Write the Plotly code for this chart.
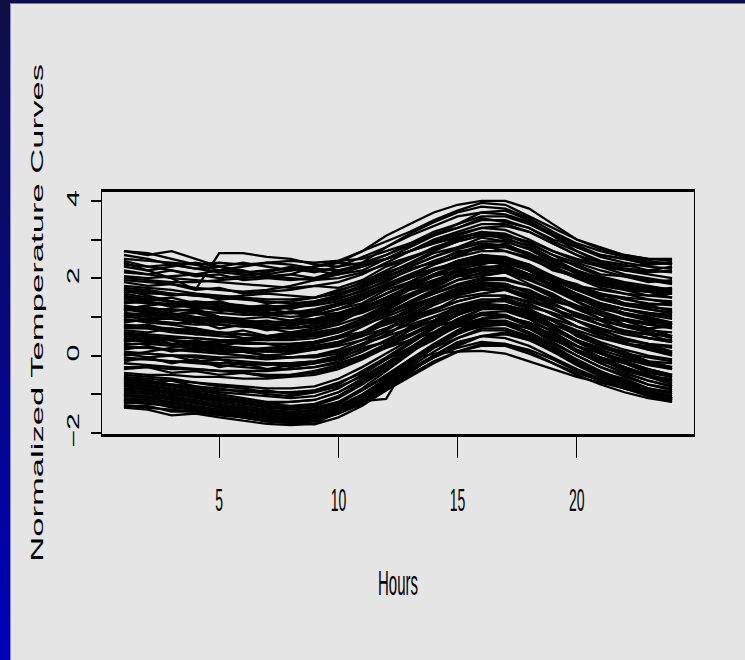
import plotly.graph_objects as go

# ---- data: hourly normalized temperature curves (one list per day) ----
hours = list(range(1, 25))

warm_days = [
    [2.7, 2.6, 2.7, 2.5, 2.3, 2.4, 2.3, 2.2, 2.3, 2.4, 2.7, 3.1, 3.4, 3.7, 3.9, 4.0, 4.0, 3.8, 3.4, 3.0, 2.8, 2.6, 2.5, 2.5],
    [2.7, 2.65, 2.5, 2.35, 2.2, 2.15, 2.1, 2.2, 2.3, 2.45, 2.7, 2.95, 3.2, 3.5, 3.75, 3.95, 3.9, 3.6, 3.3, 3.0, 2.75, 2.6, 2.5, 2.45],
    [2.4, 2.2, 2.0, 1.7, 2.65, 2.65, 2.55, 2.5, 2.35, 2.3, 2.4, 2.6, 2.9, 3.2, 3.4, 3.6, 3.6, 3.4, 3.1, 2.8, 2.6, 2.5, 2.4, 2.4],
    [2.5, 2.45, 2.4, 2.35, 2.4, 2.35, 2.4, 2.45, 2.4, 2.45, 2.5, 2.7, 2.9, 3.1, 3.3, 3.5, 3.5, 3.3, 3.0, 2.8, 2.55, 2.4, 2.3, 2.25],
    [2.35, 2.3, 2.2, 2.1, 2.0, 2.05, 2.15, 2.3, 2.2, 2.1, 2.2, 2.5, 2.8, 3.1, 3.4, 3.7, 3.75, 3.5, 3.1, 2.7, 2.4, 2.2, 2.1, 2.0],
    [2.3, 2.2, 2.3, 2.4, 2.3, 2.2, 2.05, 2.1, 2.3, 2.4, 2.35, 2.5, 2.7, 2.9, 3.1, 3.3, 3.35, 3.2, 2.9, 2.6, 2.4, 2.3, 2.35, 2.4],
    [2.2, 2.1, 2.0, 1.95, 1.9, 1.85, 1.8, 1.75, 1.8, 1.9, 2.1, 2.4, 2.7, 3.0, 3.2, 3.4, 3.4, 3.2, 2.9, 2.6, 2.3, 2.1, 2.0, 1.9],
    [2.05, 2.0, 2.05, 2.1, 2.2, 2.3, 2.4, 2.35, 2.25, 2.2, 2.3, 2.5, 2.7, 2.95, 3.15, 3.3, 3.25, 3.0, 2.7, 2.45, 2.3, 2.2, 2.15, 2.2],
    [1.95, 1.9, 1.85, 1.75, 1.7, 1.65, 1.7, 1.8, 1.95, 2.1, 2.3, 2.5, 2.7, 2.9, 3.05, 3.15, 3.1, 2.9, 2.6, 2.4, 2.2, 2.05, 1.95, 1.85],
    [2.6, 2.5, 2.35, 2.25, 2.15, 2.1, 2.0, 1.95, 2.0, 2.15, 2.4, 2.8, 3.15, 3.45, 3.7, 3.85, 3.8, 3.55, 3.2, 2.9, 2.7, 2.55, 2.45, 2.35],
    [2.0, 1.95, 1.9, 1.9, 1.95, 2.0, 2.05, 2.0, 1.95, 2.0, 2.15, 2.35, 2.55, 2.75, 2.95, 3.1, 3.1, 2.95, 2.7, 2.5, 2.35, 2.25, 2.2, 2.15],
    [2.15, 2.1, 2.2, 2.05, 2.1, 1.95, 2.0, 2.1, 2.0, 2.2, 2.35, 2.6, 2.85, 3.15, 3.3, 3.55, 3.45, 3.3, 2.95, 2.7, 2.45, 2.35, 2.2, 2.3],
    [2.45, 2.3, 2.35, 2.25, 2.3, 2.15, 2.2, 2.25, 2.15, 2.3, 2.55, 2.8, 3.1, 3.35, 3.6, 3.7, 3.65, 3.45, 3.15, 2.85, 2.6, 2.5, 2.35, 2.4],
]

mild_days = [
    [1.8, 1.75, 1.7, 1.6, 1.55, 1.5, 1.45, 1.45, 1.5, 1.65, 1.9, 2.2, 2.5, 2.8, 3.0, 3.2, 3.15, 2.9, 2.6, 2.3, 2.05, 1.9, 1.8, 1.7],
    [1.75, 1.7, 1.6, 1.55, 1.5, 1.45, 1.4, 1.35, 1.4, 1.55, 1.75, 2.0, 2.3, 2.55, 2.8, 2.95, 2.95, 2.75, 2.45, 2.2, 2.0, 1.85, 1.75, 1.7],
    [1.65, 1.6, 1.6, 1.55, 1.5, 1.55, 1.6, 1.55, 1.5, 1.6, 1.8, 2.05, 2.3, 2.55, 2.75, 2.9, 2.85, 2.6, 2.3, 2.05, 1.9, 1.75, 1.65, 1.6],
    [1.6, 1.5, 1.4, 1.3, 1.2, 1.1, 1.05, 1.0, 1.05, 1.2, 1.45, 1.75, 2.05, 2.35, 2.6, 2.8, 2.8, 2.6, 2.3, 2.0, 1.75, 1.6, 1.45, 1.35],
    [1.5, 1.45, 1.4, 1.35, 1.3, 1.25, 1.25, 1.3, 1.4, 1.55, 1.8, 2.1, 2.4, 2.7, 2.95, 3.1, 3.05, 2.8, 2.5, 2.2, 2.0, 1.85, 1.75, 1.65],
    [1.45, 1.4, 1.3, 1.25, 1.2, 1.15, 1.1, 1.1, 1.15, 1.3, 1.5, 1.75, 2.0, 2.2, 2.4, 2.55, 2.5, 2.3, 2.05, 1.8, 1.6, 1.45, 1.35, 1.3],
    [1.4, 1.35, 1.35, 1.3, 1.25, 1.2, 1.2, 1.25, 1.3, 1.4, 1.6, 1.85, 2.1, 2.35, 2.55, 2.7, 2.7, 2.5, 2.25, 2.0, 1.85, 1.75, 1.7, 1.65],
    [1.3, 1.2, 1.1, 1.0, 0.95, 0.9, 0.85, 0.85, 0.9, 1.05, 1.3, 1.6, 1.9, 2.2, 2.45, 2.6, 2.55, 2.35, 2.05, 1.75, 1.5, 1.35, 1.2, 1.1],
    [1.25, 1.2, 1.2, 1.15, 1.1, 1.05, 1.05, 1.1, 1.2, 1.35, 1.55, 1.8, 2.05, 2.25, 2.4, 2.5, 2.45, 2.25, 2.0, 1.8, 1.6, 1.5, 1.45, 1.4],
    [1.2, 1.1, 1.05, 0.95, 0.9, 0.8, 0.75, 0.7, 0.75, 0.9, 1.15, 1.45, 1.8, 2.1, 2.35, 2.5, 2.45, 2.2, 1.9, 1.6, 1.35, 1.2, 1.05, 0.95],
    [1.1, 1.05, 1.0, 0.95, 0.9, 0.9, 0.85, 0.9, 0.95, 1.1, 1.3, 1.6, 1.85, 2.1, 2.3, 2.45, 2.4, 2.2, 1.95, 1.7, 1.5, 1.35, 1.25, 1.2],
    [1.05, 1.0, 0.95, 0.85, 0.8, 0.75, 0.7, 0.7, 0.8, 0.95, 1.2, 1.5, 1.8, 2.05, 2.3, 2.45, 2.45, 2.25, 1.95, 1.7, 1.45, 1.3, 1.2, 1.1],
    [1.0, 0.95, 0.95, 0.9, 0.85, 0.85, 0.8, 0.8, 0.85, 0.95, 1.1, 1.35, 1.6, 1.85, 2.05, 2.2, 2.2, 2.05, 1.8, 1.55, 1.35, 1.2, 1.1, 1.05],
    [0.95, 0.85, 0.8, 0.7, 0.6, 0.55, 0.5, 0.5, 0.55, 0.7, 0.95, 1.25, 1.55, 1.85, 2.1, 2.3, 2.3, 2.1, 1.8, 1.5, 1.25, 1.05, 0.9, 0.8],
    [0.9, 0.9, 0.85, 0.8, 0.8, 0.75, 0.75, 0.8, 0.9, 1.05, 1.25, 1.5, 1.75, 1.95, 2.15, 2.3, 2.25, 2.05, 1.8, 1.55, 1.35, 1.2, 1.1, 1.0],
    [0.8, 0.75, 0.7, 0.65, 0.6, 0.55, 0.5, 0.5, 0.55, 0.65, 0.85, 1.1, 1.35, 1.6, 1.8, 1.95, 1.95, 1.8, 1.55, 1.3, 1.1, 0.95, 0.85, 0.8],
    [0.75, 0.7, 0.6, 0.55, 0.5, 0.45, 0.4, 0.4, 0.45, 0.6, 0.85, 1.15, 1.5, 1.8, 2.05, 2.25, 2.2, 2.0, 1.7, 1.4, 1.15, 0.95, 0.8, 0.7],
    [0.7, 0.7, 0.65, 0.6, 0.55, 0.55, 0.5, 0.55, 0.6, 0.7, 0.9, 1.1, 1.3, 1.5, 1.65, 1.8, 1.8, 1.65, 1.45, 1.25, 1.05, 0.9, 0.8, 0.75],
    [0.6, 0.55, 0.5, 0.45, 0.4, 0.35, 0.3, 0.3, 0.35, 0.5, 0.75, 1.05, 1.35, 1.6, 1.85, 2.0, 2.0, 1.8, 1.5, 1.2, 0.95, 0.75, 0.6, 0.5],
    [0.55, 0.5, 0.45, 0.45, 0.4, 0.4, 0.4, 0.45, 0.5, 0.6, 0.8, 1.0, 1.25, 1.45, 1.6, 1.75, 1.7, 1.55, 1.3, 1.1, 0.9, 0.75, 0.65, 0.6],
    [0.5, 0.45, 0.4, 0.3, 0.25, 0.2, 0.15, 0.15, 0.2, 0.35, 0.6, 0.9, 1.2, 1.5, 1.75, 1.9, 1.85, 1.65, 1.35, 1.05, 0.8, 0.6, 0.45, 0.35],
    [0.45, 0.4, 0.4, 0.35, 0.35, 0.3, 0.3, 0.3, 0.35, 0.45, 0.6, 0.8, 1.0, 1.2, 1.4, 1.55, 1.55, 1.4, 1.2, 1.0, 0.8, 0.65, 0.55, 0.5],
    [0.4, 0.35, 0.3, 0.25, 0.2, 0.15, 0.1, 0.1, 0.15, 0.3, 0.55, 0.85, 1.15, 1.45, 1.7, 1.85, 1.85, 1.65, 1.35, 1.05, 0.8, 0.6, 0.45, 0.35],
    [0.3, 0.3, 0.25, 0.2, 0.15, 0.15, 0.15, 0.2, 0.25, 0.35, 0.5, 0.7, 0.9, 1.1, 1.3, 1.45, 1.45, 1.3, 1.1, 0.9, 0.7, 0.55, 0.45, 0.4],
    [0.25, 0.2, 0.15, 0.1, 0.05, 0.0, -0.05, -0.05, 0.0, 0.15, 0.4, 0.7, 1.0, 1.3, 1.55, 1.7, 1.7, 1.5, 1.2, 0.9, 0.65, 0.45, 0.3, 0.2],
    [0.2, 0.2, 0.15, 0.15, 0.1, 0.1, 0.1, 0.1, 0.15, 0.25, 0.4, 0.6, 0.8, 1.0, 1.15, 1.3, 1.3, 1.15, 0.95, 0.75, 0.55, 0.4, 0.3, 0.25],
    [0.1, 0.05, 0.0, -0.05, -0.1, -0.15, -0.2, -0.2, -0.15, 0.0, 0.25, 0.55, 0.85, 1.15, 1.4, 1.55, 1.55, 1.35, 1.05, 0.75, 0.5, 0.3, 0.15, 0.05],
    [0.05, 0.05, 0.0, 0.0, -0.05, -0.05, -0.1, -0.05, 0.0, 0.1, 0.3, 0.5, 0.7, 0.9, 1.1, 1.25, 1.25, 1.1, 0.9, 0.65, 0.45, 0.3, 0.2, 0.1],
    [-0.05, -0.1, -0.15, -0.2, -0.25, -0.3, -0.35, -0.35, -0.3, -0.15, 0.1, 0.4, 0.7, 1.0, 1.25, 1.4, 1.4, 1.2, 0.9, 0.6, 0.35, 0.15, 0.0, -0.1],
    [-0.1, -0.1, -0.15, -0.15, -0.2, -0.2, -0.25, -0.2, -0.15, -0.05, 0.15, 0.35, 0.55, 0.75, 0.9, 1.05, 1.0, 0.85, 0.65, 0.4, 0.2, 0.05, -0.05, -0.15],
    [-0.2, -0.25, -0.3, -0.35, -0.4, -0.45, -0.5, -0.5, -0.45, -0.3, -0.05, 0.25, 0.55, 0.85, 1.1, 1.25, 1.2, 1.0, 0.7, 0.4, 0.15, -0.05, -0.2, -0.3],
    [-0.3, -0.3, -0.35, -0.35, -0.4, -0.4, -0.4, -0.35, -0.3, -0.2, 0.0, 0.2, 0.4, 0.6, 0.75, 0.85, 0.85, 0.7, 0.5, 0.25, 0.05, -0.1, -0.25, -0.35],
    [1.2, 1.3, 1.35, 1.4, 1.35, 1.3, 1.2, 1.1, 1.05, 1.1, 1.3, 1.6, 1.9, 2.2, 2.45, 2.6, 2.5, 2.2, 1.8, 1.4, 1.05, 0.8, 0.6, 0.45],
    [0.0, 0.1, 0.2, 0.3, 0.35, 0.4, 0.45, 0.5, 0.55, 0.65, 0.85, 1.1, 1.4, 1.7, 1.95, 2.15, 2.2, 2.1, 1.95, 1.8, 1.7, 1.6, 1.55, 1.5],
    [1.7, 1.55, 1.4, 1.2, 1.0, 0.85, 0.7, 0.6, 0.55, 0.65, 0.9, 1.2, 1.55, 1.9, 2.2, 2.4, 2.4, 2.2, 1.9, 1.55, 1.3, 1.1, 0.95, 0.85],
    [0.6, 0.5, 0.4, 0.3, 0.2, 0.1, 0.0, -0.05, -0.05, 0.05, 0.3, 0.65, 1.0, 1.35, 1.65, 1.85, 1.85, 1.6, 1.25, 0.9, 0.6, 0.35, 0.15, 0.0],
    [1.9, 1.8, 1.85, 1.7, 1.75, 1.6, 1.65, 1.7, 1.8, 1.75, 1.95, 2.3, 2.5, 2.75, 3.05, 3.2, 3.0, 2.85, 2.5, 2.35, 2.1, 2.05, 1.9, 1.95],
    [1.35, 1.4, 1.25, 1.3, 1.15, 1.2, 1.05, 1.15, 1.1, 1.3, 1.45, 1.8, 2.0, 2.4, 2.55, 2.85, 2.7, 2.55, 2.2, 2.05, 1.8, 1.7, 1.55, 1.6],
    [0.85, 0.95, 0.8, 0.9, 0.7, 0.8, 0.65, 0.75, 0.9, 0.95, 1.25, 1.4, 1.75, 1.9, 2.25, 2.35, 2.5, 2.2, 2.05, 1.7, 1.6, 1.35, 1.3, 1.15],
    [0.35, 0.45, 0.3, 0.4, 0.25, 0.35, 0.3, 0.2, 0.35, 0.5, 0.6, 0.95, 1.1, 1.5, 1.6, 1.9, 1.8, 1.7, 1.4, 1.25, 0.95, 0.9, 0.7, 0.75],
    [-0.15, -0.05, -0.2, -0.1, -0.3, -0.2, -0.35, -0.25, -0.2, -0.1, 0.2, 0.35, 0.75, 0.9, 1.3, 1.35, 1.5, 1.25, 1.1, 0.75, 0.6, 0.3, 0.25, 0.05],
    [1.55, 1.45, 1.5, 1.35, 1.4, 1.25, 1.3, 1.2, 1.35, 1.45, 1.7, 1.9, 2.25, 2.4, 2.7, 2.75, 2.9, 2.6, 2.45, 2.1, 1.95, 1.7, 1.65, 1.5],
    [1.0, 1.1, 1.05, 1.15, 1.0, 0.95, 1.0, 0.9, 1.05, 1.2, 1.35, 1.7, 1.9, 2.2, 2.35, 2.6, 2.5, 2.35, 2.0, 1.85, 1.55, 1.5, 1.3, 1.35],
    [0.65, 0.6, 0.7, 0.55, 0.6, 0.45, 0.5, 0.55, 0.65, 0.8, 1.0, 1.3, 1.55, 1.75, 2.05, 2.1, 2.15, 1.95, 1.7, 1.45, 1.3, 1.05, 1.0, 0.85],
    [0.15, 0.25, 0.1, 0.2, 0.05, 0.1, 0.0, 0.05, 0.15, 0.3, 0.5, 0.85, 1.05, 1.4, 1.55, 1.8, 1.75, 1.55, 1.35, 1.05, 0.9, 0.6, 0.55, 0.35],
    [1.2, 1.15, 1.05, 1.1, 0.95, 0.85, 0.9, 0.8, 0.85, 1.0, 1.2, 1.45, 1.75, 2.05, 2.2, 2.45, 2.35, 2.1, 1.75, 1.5, 1.2, 1.1, 0.9, 0.8],
    [0.45, 0.35, 0.4, 0.25, 0.3, 0.15, 0.2, 0.25, 0.3, 0.45, 0.75, 1.05, 1.4, 1.65, 1.95, 2.05, 2.15, 1.85, 1.6, 1.25, 1.05, 0.8, 0.7, 0.5],
    [-0.35, -0.3, -0.45, -0.4, -0.5, -0.45, -0.55, -0.5, -0.4, -0.25, 0.0, 0.3, 0.65, 0.9, 1.2, 1.35, 1.3, 1.15, 0.8, 0.55, 0.25, 0.1, -0.15, -0.2],
    [1.7, 1.65, 1.55, 1.6, 1.45, 1.5, 1.35, 1.4, 1.5, 1.7, 1.85, 2.15, 2.35, 2.65, 2.8, 3.05, 2.95, 2.75, 2.4, 2.2, 1.95, 1.85, 1.7, 1.75],
    [0.75, 0.8, 0.65, 0.7, 0.55, 0.65, 0.5, 0.6, 0.7, 0.85, 1.15, 1.35, 1.7, 1.85, 2.2, 2.25, 2.35, 2.05, 1.85, 1.5, 1.35, 1.1, 1.0, 0.8],
    [0.05, -0.05, 0.0, -0.15, -0.1, -0.25, -0.2, -0.3, -0.2, -0.05, 0.3, 0.5, 0.95, 1.15, 1.5, 1.6, 1.7, 1.45, 1.25, 0.9, 0.7, 0.4, 0.3, 0.1],
    [1.15, 1.25, 1.15, 1.2, 1.25, 1.2, 1.15, 1.25, 1.35, 1.5, 1.65, 1.95, 2.2, 2.45, 2.65, 2.85, 2.85, 2.65, 2.35, 2.15, 1.95, 1.8, 1.7, 1.6],
]

cold_days = [
    [-0.45, -0.5, -0.5, -0.55, -0.55, -0.6, -0.6, -0.55, -0.5, -0.35, -0.1, 0.2, 0.5, 0.8, 1.05, 1.25, 1.3, 1.15, 0.9, 0.6, 0.3, 0.05, -0.15, -0.3],
    [-0.55, -0.6, -0.65, -0.7, -0.75, -0.8, -0.85, -0.85, -0.8, -0.6, -0.3, 0.05, 0.4, 0.75, 1.05, 1.25, 1.25, 1.05, 0.75, 0.4, 0.1, -0.15, -0.35, -0.5],
    [-0.6, -0.65, -0.75, -0.85, -0.95, -1.0, -1.05, -1.1, -1.05, -0.85, -0.5, -0.1, 0.3, 0.7, 1.05, 1.3, 1.3, 1.1, 0.75, 0.4, 0.1, -0.15, -0.35, -0.5],
    [-0.65, -0.7, -0.8, -0.9, -1.0, -1.1, -1.2, -1.2, -1.15, -0.95, -0.6, -0.2, 0.2, 0.6, 0.95, 1.2, 1.2, 0.95, 0.6, 0.25, -0.05, -0.3, -0.5, -0.65],
    [-0.7, -0.75, -0.85, -0.95, -1.05, -1.15, -1.25, -1.3, -1.25, -1.05, -0.7, -0.3, 0.15, 0.55, 0.9, 1.1, 1.05, 0.8, 0.45, 0.1, -0.2, -0.45, -0.65, -0.8],
    [-0.75, -0.8, -0.9, -1.0, -1.1, -1.2, -1.3, -1.35, -1.3, -1.1, -0.75, -0.35, 0.1, 0.5, 0.85, 1.1, 1.15, 0.95, 0.6, 0.25, -0.05, -0.3, -0.5, -0.65],
    [-0.8, -0.85, -0.95, -1.05, -1.15, -1.25, -1.35, -1.4, -1.35, -1.2, -0.9, -0.5, -0.1, 0.3, 0.65, 0.9, 0.9, 0.7, 0.35, 0.0, -0.3, -0.55, -0.75, -0.9],
    [-0.85, -0.9, -1.0, -1.1, -1.2, -1.3, -1.4, -1.45, -1.4, -1.2, -0.85, -0.4, 0.05, 0.5, 0.9, 1.2, 1.25, 1.05, 0.7, 0.35, 0.05, -0.2, -0.4, -0.55],
    [-0.9, -0.95, -1.05, -1.15, -1.25, -1.35, -1.45, -1.5, -1.45, -1.3, -1.0, -0.6, -0.15, 0.25, 0.6, 0.85, 0.85, 0.6, 0.25, -0.1, -0.4, -0.65, -0.85, -1.0],
    [-0.95, -1.0, -1.1, -1.2, -1.3, -1.4, -1.5, -1.55, -1.5, -1.35, -1.05, -0.65, -0.2, 0.25, 0.65, 0.95, 1.0, 0.8, 0.45, 0.1, -0.2, -0.45, -0.65, -0.8],
    [-1.0, -1.05, -1.15, -1.25, -1.35, -1.45, -1.55, -1.6, -1.55, -1.4, -1.1, -0.7, -0.25, 0.2, 0.55, 0.8, 0.8, 0.55, 0.2, -0.15, -0.45, -0.7, -0.9, -1.05],
    [-1.05, -1.1, -1.2, -1.3, -1.4, -1.5, -1.6, -1.65, -1.6, -1.45, -1.15, -0.75, -0.3, 0.1, 0.45, 0.7, 0.7, 0.5, 0.15, -0.2, -0.5, -0.75, -0.95, -1.1],
    [-1.1, -1.15, -1.25, -1.35, -1.45, -1.55, -1.65, -1.7, -1.65, -1.5, -1.2, -0.8, -0.4, -0.05, 0.25, 0.5, 0.55, 0.4, 0.1, -0.25, -0.55, -0.8, -1.0, -1.15],
    [-1.15, -1.2, -1.3, -1.4, -1.5, -1.6, -1.7, -1.75, -1.7, -1.5, -1.2, -0.85, -0.5, -0.15, 0.1, 0.3, 0.3, 0.15, -0.1, -0.4, -0.65, -0.85, -1.05, -1.2],
    [-1.2, -1.25, -1.3, -1.4, -1.5, -1.6, -1.7, -1.75, -1.78, -1.6, -1.3, -0.9, -0.45, 0.0, 0.3, 0.5, 0.45, 0.25, -0.05, -0.35, -0.6, -0.85, -1.0, -1.15],
    [-1.3, -1.35, -1.4, -1.45, -1.5, -1.55, -1.6, -1.65, -1.6, -1.45, -1.18, -1.12, -0.1, 0.05, 0.1, 0.12, 0.05, -0.15, -0.35, -0.55, -0.7, -0.85, -1.0, -1.15],
    [-1.35, -1.4, -1.55, -1.5, -1.6, -1.68, -1.77, -1.8, -1.77, -1.45, -1.15, -0.8, -0.4, -0.05, 0.2, 0.35, 0.3, 0.1, -0.2, -0.5, -0.75, -0.95, -1.1, -1.2],
    [-0.6, -0.7, -0.65, -0.8, -0.85, -0.95, -0.9, -1.0, -0.9, -0.7, -0.45, -0.1, 0.2, 0.55, 0.8, 1.05, 1.0, 0.85, 0.5, 0.25, -0.05, -0.2, -0.45, -0.55],
    [-0.8, -0.75, -0.9, -0.95, -1.1, -1.15, -1.25, -1.2, -1.15, -0.95, -0.65, -0.25, 0.1, 0.45, 0.75, 0.95, 1.0, 0.75, 0.5, 0.1, -0.1, -0.4, -0.55, -0.75],
    [-1.0, -1.1, -1.05, -1.2, -1.3, -1.35, -1.45, -1.5, -1.4, -1.25, -0.9, -0.55, -0.1, 0.25, 0.6, 0.75, 0.8, 0.6, 0.3, 0.0, -0.3, -0.5, -0.75, -0.85],
    [-1.25, -1.2, -1.35, -1.4, -1.45, -1.55, -1.6, -1.7, -1.6, -1.45, -1.15, -0.75, -0.35, 0.0, 0.35, 0.5, 0.6, 0.4, 0.15, -0.2, -0.45, -0.7, -0.9, -1.1],
    [-0.5, -0.55, -0.6, -0.7, -0.8, -0.85, -0.95, -0.95, -0.9, -0.75, -0.4, -0.05, 0.35, 0.75, 1.05, 1.35, 1.45, 1.2, 0.9, 0.5, 0.25, 0.0, -0.2, -0.35],
    [-0.9, -0.85, -1.0, -1.05, -1.2, -1.2, -1.35, -1.35, -1.3, -1.05, -0.7, -0.35, 0.1, 0.4, 0.8, 0.95, 1.05, 0.8, 0.55, 0.15, -0.05, -0.35, -0.5, -0.7],
    [-1.15, -1.25, -1.2, -1.35, -1.4, -1.5, -1.55, -1.6, -1.55, -1.35, -1.05, -0.6, -0.2, 0.2, 0.45, 0.65, 0.65, 0.45, 0.1, -0.15, -0.45, -0.6, -0.85, -0.95],
    [-0.7, -0.65, -0.75, -0.8, -0.9, -0.9, -1.0, -1.05, -0.95, -0.8, -0.55, -0.2, 0.15, 0.45, 0.75, 0.9, 0.85, 0.7, 0.4, 0.15, -0.15, -0.3, -0.55, -0.6],
    [-1.3, -1.3, -1.45, -1.45, -1.55, -1.6, -1.7, -1.72, -1.7, -1.5, -1.25, -0.9, -0.55, -0.2, 0.1, 0.25, 0.25, 0.05, -0.2, -0.45, -0.65, -0.85, -1.0, -1.1],
]

x_tick_vals = [5, 10, 15, 20]
y_tick_vals = [-2, -1, 0, 1, 2, 3, 4]
y_tick_text = ["\u22122", "", "0", "", "2", "", "4"]

x_title = "Hours"
y_title = "Normalized Temperature Curves"

# ---- page geometry (pixels) ----
W, H = 745, 660
ML, MR, MT, MB = 102, 51, 192, 226
PW, PH = W - ML - MR, H - MT - MB
FONT = "Liberation Sans, Arial, Helvetica, sans-serif"
PAPER_BG = "#e5e5e5"


def px_x(p):
    return (p - ML) / PW


def px_y(p):
    return (H - MB - p) / PH


fig = go.Figure()
for day in warm_days + mild_days + cold_days:
    fig.add_trace(go.Scatter(
        x=hours, y=day, mode="lines",
        line=dict(color="black", width=2.3),
        hoverinfo="skip", showlegend=False,
    ))

# dark frame: band across the top, shaded band down the left side
shapes = [dict(type="rect", xref="paper", yref="paper", layer="above",
               x0=px_x(0), x1=px_x(W), y0=px_y(0), y1=px_y(3.5),
               fillcolor="#0b0b50", line=dict(width=0))]
steps = 30
top_rgb, bot_rgb = (14, 14, 68), (0, 0, 186)
for i in range(steps):
    f = i / (steps - 1)
    c = tuple(round(a + (b - a) * f) for a, b in zip(top_rgb, bot_rgb))
    shapes.append(dict(type="rect", xref="paper", yref="paper", layer="above",
                       x0=px_x(0), x1=px_x(10),
                       y0=px_y(H * i / steps), y1=px_y(H * (i + 1) / steps + 0.5),
                       fillcolor="rgb(%d,%d,%d)" % c, line=dict(width=0)))
shapes.append(dict(type="line", xref="paper", yref="paper", layer="above",
                   x0=px_x(10.5), x1=px_x(10.5), y0=px_y(3.5), y1=px_y(H),
                   line=dict(color="#8c8cd2", width=1)))

fig.update_layout(
    width=W, height=H,
    margin=dict(l=ML, r=MR, t=MT, b=MB, pad=0),
    paper_bgcolor=PAPER_BG, plot_bgcolor=PAPER_BG,
    template="none",
    font=dict(family=FONT, color="black"),
    showlegend=False,
    shapes=shapes,
    xaxis=dict(
        range=[0.08, 24.92], tickmode="array", tickvals=x_tick_vals,
        ticks="outside", ticklen=21, tickwidth=1, tickcolor="black",
        tickfont=dict(size=14, family=FONT, color="black"),
        ticklabelstandoff=30,
        showline=True, mirror=True, linecolor="black", linewidth=2.5,
        showgrid=False, zeroline=False, automargin=False,
    ),
    yaxis=dict(
        range=[-2.03, 4.23], tickmode="array", tickvals=y_tick_vals, ticktext=y_tick_text,
        ticks="outside", ticklen=10, tickwidth=2, tickcolor="black",
        tickangle=-90, tickfont=dict(size=16.5, family=FONT, color="black"),
        ticklabelstandoff=5,
        showline=True, mirror=True, linecolor="black", linewidth=1.3,
        showgrid=False, zeroline=False, automargin=False,
    ),
    annotations=[
        dict(text=x_title, xref="paper", yref="paper", x=0.5, y=0,
             xanchor="center", yanchor="middle", yshift=-148, showarrow=False,
             font=dict(size=15, family=FONT, color="black")),
        dict(text=y_title, xref="paper", yref="paper", x=0, y=0.5,
             xanchor="center", yanchor="middle", xshift=-64.5, textangle=-90,
             showarrow=False, font=dict(size=16.5, family=FONT, color="black")),
    ],
)

# the labels are drawn tall and narrow: stretch each text about its own centre
stretch_js = """
var gd = document.getElementById('{plot_id}');
function stretchText(nodes, sx, sy) {
  Array.prototype.forEach.call(nodes, function (t) {
    if (!t) { return; }
    var b = t.getBBox();
    var cx = b.x + b.width / 2, cy = b.y + b.height / 2;
    var base = t.getAttribute('transform') || '';
    t.setAttribute('transform', base + ' translate(' + cx + ',' + cy + ') scale(' + sx + ',' + sy + ') translate(' + (-cx) + ',' + (-cy) + ')');
  });
}
stretchText(gd.querySelectorAll('.xtick text'), 1, 2.3);
stretchText(gd.querySelectorAll('.ytick text'), 1.85, 1);
var notes = gd.querySelectorAll('.annotation-text');
stretchText([notes[0]], 1, 2.33);
stretchText([notes[1]], 2.1, 1);
"""

fig.write_html("out.html", post_script=stretch_js)
